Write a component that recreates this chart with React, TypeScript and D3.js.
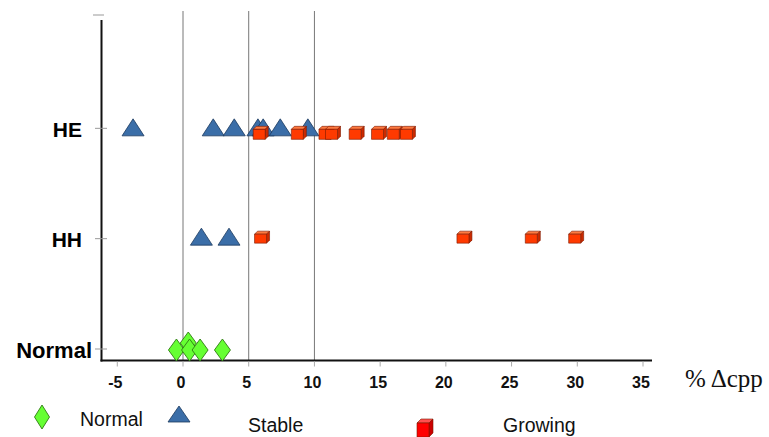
import React from "react";
import * as d3 from "d3";

const categories = ["Normal", "HH", "HE", ""];
const xTicks = [-5, 0, 5, 10, 15, 20, 25, 30, 35];
const gridValues = [0, 5, 10];

const normalValues = [-0.5, 0.4, 0.5, 1.3, 3.0];
const stableHE = [-3.8, 2.3, 3.9, 5.7, 6.1, 7.4, 9.5];
const stableHH = [1.4, 3.5];
const growingHE = [5.8, 8.7, 10.8, 11.3, 13.1, 14.8, 16.0, 17.0];
const growingHH = [5.9, 21.3, 26.5, 29.8];

const W = 769;
const H = 437;

function Cube({ x, y, w, h, d, front, top, side }: any) {
  const x0 = x - w / 2, y0 = y - h / 2;
  return (
    <g stroke="#7a1a00" strokeWidth={0.6} strokeLinejoin="round">
      <path d={`M${x0},${y0} L${x0 + d},${y0 - d} L${x0 + w + d},${y0 - d} L${x0 + w},${y0} Z`} fill={top} />
      <path d={`M${x0 + w},${y0} L${x0 + w + d},${y0 - d} L${x0 + w + d},${y0 + h - d} L${x0 + w},${y0 + h} Z`} fill={side} />
      <rect x={x0} y={y0} width={w} height={h} fill={front} />
    </g>
  );
}

function Tri({ x, y, w, h }: any) {
  return (
    <path
      d={`M${x},${y - h / 2} L${x + w / 2},${y + h / 2} L${x - w / 2},${y + h / 2} Z`}
      fill="#3b6ea8"
      stroke="#1c3a5e"
      strokeWidth={0.8}
    />
  );
}

function Diamond({ x, y, w, h }: any) {
  return (
    <path
      d={`M${x},${y - h / 2} L${x + w / 2},${y} L${x},${y + h / 2} L${x - w / 2},${y} Z`}
      fill="#66ff33"
      stroke="#2f7a12"
      strokeWidth={0.9}
    />
  );
}

export default function App() {
  const x = d3.scaleLinear().domain([0, 35]).range([183, 643]);
  const y = d3.scalePoint().domain(categories).range([349, 18]);
  const axisY = 360.5;
  const axisX = 101.5;
  const sans = "Liberation Sans, Arial, sans-serif";

  return (
    <svg width={W} height={H} style={{ position: "absolute", left: 0, top: 0, background: "#fff" }}>
      {gridValues.map((v) => (
        <line key={"g" + v} x1={x(v)} x2={x(v)} y1={11} y2={axisY} stroke="#777" strokeWidth={1} />
      ))}
      <line x1={axisX} x2={axisX} y1={20} y2={axisY + 1} stroke="#111" strokeWidth={2} />
      <line x1={93} x2={104} y1={15} y2={15} stroke="#999" strokeWidth={1} />
      {categories.filter((c) => c).map((c) => (
        <g key={c}>
          <line x1={95} x2={107} y1={y(c)!} y2={y(c)!} stroke="#999" strokeWidth={1} />
          <text
            x={c === "Normal" ? 92 : 82}
            y={y(c)! + 1}
            textAnchor="end"
            dominantBaseline="central"
            fontFamily={sans}
            fontWeight="bold"
            fontSize={c === "Normal" ? 22 : 21}
            fill="#000"
          >
            {c}
          </text>
        </g>
      ))}
      <line x1={axisX - 1} x2={652} y1={axisY} y2={axisY} stroke="#111" strokeWidth={2} />
      {xTicks.map((t) => (
        <g key={"t" + t}>
          <line x1={x(t)} x2={x(t)} y1={axisY + 1} y2={axisY + 6} stroke="#aaa" strokeWidth={1} />
          <text
            x={x(t) - 2}
            y={382}
            textAnchor="middle"
            dominantBaseline="central"
            fontFamily={sans}
            fontWeight="bold"
            fontSize={16}
            fill="#111"
          >
            {t}
          </text>
        </g>
      ))}
      <text x={685} y={387} fontFamily="Liberation Serif, Times New Roman, serif" fontSize={25} fill="#111">
        % Δcpp
      </text>

      {normalValues.map((v, i) => (
        <Diamond key={"n" + i} x={x(v)} y={y("Normal")! + (i === 1 ? -6 : 1)} w={16} h={22} />
      ))}

      {stableHE.map((v, i) => (
        <Tri key={"sh" + i} x={x(v)} y={y("HE")! - 1} w={22} h={17} />
      ))}
      {growingHE.map((v, i) => (
        <Cube key={"gh" + i} x={x(v)} y={y("HE")! + 6} w={12} h={10} d={3} front="#ff3a00" top="#ff7a40" side="#cc2a00" />
      ))}

      {stableHH.map((v, i) => (
        <Tri key={"sk" + i} x={x(v)} y={y("HH")! - 2} w={22} h={17} />
      ))}
      {growingHH.map((v, i) => (
        <Cube key={"gk" + i} x={x(v)} y={y("HH")!} w={12} h={9} d={3} front="#ff3a00" top="#ff7a40" side="#cc2a00" />
      ))}

      <Diamond x={42} y={417} w={15} h={24} />
      <text x={80} y={419} dominantBaseline="central" fontFamily={sans} fontSize={19.5} fill="#111">
        Normal
      </text>
      <Tri x={179} y={414} w={22} h={16} />
      <text x={248} y={425} dominantBaseline="central" fontFamily={sans} fontSize={19.5} fill="#111">
        Stable
      </text>
      <Cube x={423} y={430} w={12} h={14} d={4} front="#ff0000" top="#ff5050" side="#cc0000" />
      <text x={503} y={425} dominantBaseline="central" fontFamily={sans} fontSize={19.5} fill="#111">
        Growing
      </text>
    </svg>
  );
}
